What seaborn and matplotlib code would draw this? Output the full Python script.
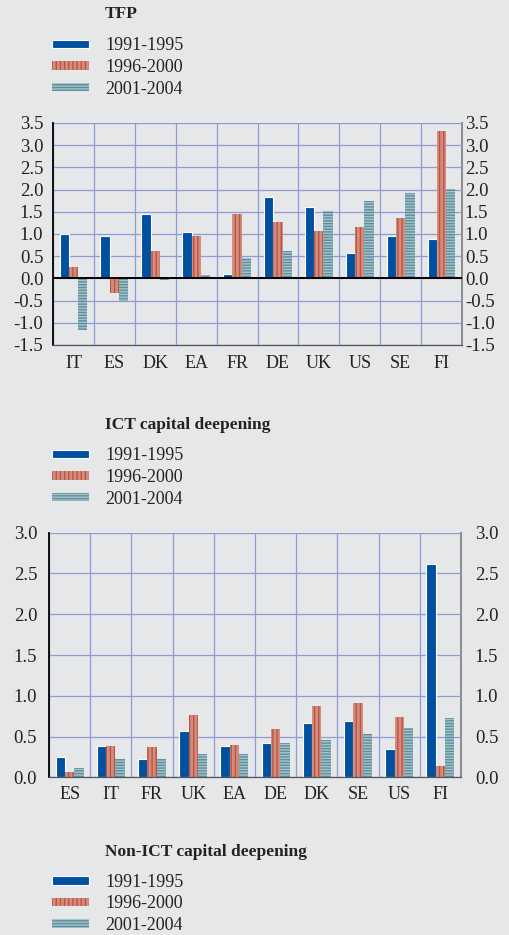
import numpy as np
import pandas as pd
import seaborn as sns
import matplotlib.pyplot as plt
import matplotlib.patches as mpatches

# data
periods = ["1991-1995", "1996-2000", "2001-2004"]

tfp_countries = ["IT", "ES", "DK", "EA", "FR", "DE", "UK", "US", "SE", "FI"]
tfp_9195 = [1.00, 0.95, 1.44, 1.04, 0.11, 1.84, 1.60, 0.57, 0.96, 0.88]
tfp_9600 = [0.25, -0.34, 0.62, 0.95, 1.46, 1.28, 1.07, 1.16, 1.35, 3.32]
tfp_0104 = [-1.17, -0.51, -0.04, 0.07, 0.46, 0.62, 1.52, 1.74, 1.92, 2.02]

ict_countries = ["ES", "IT", "FR", "UK", "EA", "DE", "DK", "SE", "US", "FI"]
ict_9195 = [0.25, 0.38, 0.23, 0.57, 0.38, 0.42, 0.67, 0.69, 0.35, 2.61]
ict_9600 = [0.06, 0.39, 0.37, 0.76, 0.40, 0.59, 0.88, 0.91, 0.74, 0.14]
ict_0104 = [0.11, 0.22, 0.23, 0.28, 0.29, 0.42, 0.46, 0.53, 0.61, 0.73]

BG = "#e6e7e9"
GRID = "#8d9cd6"
TXT = "#222222"
# face colour, stripe colour, hatch per period
styles = [
    dict(facecolor="#0050a0", edgecolor="white", hatch=None, lw=0.8),
    dict(facecolor="#d58c7c", edgecolor="#b85545", hatch="||||", lw=0),
    dict(facecolor="#a6c3cb", edgecolor="#5d8f9d", hatch="------", lw=0),
]

sns.set_style("white", {"axes.facecolor": BG, "figure.facecolor": BG})
plt.rcParams["font.family"] = ["Liberation Serif", "DejaVu Serif"]
plt.rcParams["hatch.linewidth"] = 1.0


def long_df(countries, a, b, c):
    rows = []
    for p, vals in zip(periods, [a, b, c]):
        for k, v in zip(countries, vals):
            rows.append((k, p, v))
    return pd.DataFrame(rows, columns=["country", "period", "value"])


def bar_panel(ax, countries, a, b, c, ylim, yticks, lpad, rpad, xpad):
    df = long_df(countries, a, b, c)
    sns.barplot(data=df, x="country", y="value", hue="period", order=countries,
                hue_order=periods, width=0.68, legend=False, ax=ax)
    # stripes instead of plain fills
    for cont, st in zip(ax.containers, styles):
        for bar in cont:
            bar.set_facecolor(st["facecolor"])
            bar.set_edgecolor(st["edgecolor"])
            bar.set_linewidth(st["lw"])
            if st["hatch"]:
                bar.set_hatch(st["hatch"])

    n = len(countries)
    labels = [f"{t:.1f}" for t in yticks]
    ax.set_xlim(-0.5, n - 0.5)
    ax.set_ylim(*ylim)
    ax.set_yticks(yticks)
    ax.set_yticklabels(labels)
    ax.set_xticks(np.arange(-0.5, n, 1.0), minor=True)
    ax.set_xlabel("")
    ax.set_ylabel("")
    ax.set_axisbelow(True)
    ax.grid(which="minor", axis="x", color=GRID, lw=0.9)
    ax.grid(which="major", axis="y", color=GRID, lw=0.9)
    ax.tick_params(axis="x", which="major", length=0, labelsize=13,
                   pad=xpad, labelcolor=TXT)
    ax.tick_params(axis="x", which="minor", length=4, width=0.8,
                   color="#444444", direction="out")
    ax.tick_params(axis="y", length=0, labelsize=13.5, pad=lpad, labelcolor=TXT)

    # right-hand scale with its own padding
    sec = ax.secondary_yaxis("right")
    sec.set_yticks(yticks)
    sec.set_yticklabels(labels)
    sec.tick_params(length=0, labelsize=13.5, pad=rpad, labelcolor=TXT)
    sec.spines["right"].set_color("#8a8a8a")
    sec.spines["right"].set_linewidth(1.4)

    ax.spines["top"].set_visible(False)
    ax.spines["right"].set_visible(False)
    ax.spines["left"].set_color("black")
    ax.spines["left"].set_linewidth(1.3)
    ax.spines["bottom"].set_color("#555555")
    ax.spines["bottom"].set_linewidth(0.9)
    return ax


W, H = 509, 935
fig = plt.figure(figsize=(W / 100, H / 100), dpi=100)


def fx(px):
    return px / W


def fy(px):
    return 1 - px / H


# TFP panel
ax1 = fig.add_axes([fx(53), fy(345), fx(409), 222 / H])
bar_panel(ax1, tfp_countries, tfp_9195, tfp_9600, tfp_0104,
          (-1.5, 3.5), np.arange(-1.5, 3.51, 0.5), 7, 2, 7)
ax1.axhline(0, color="black", lw=1.4, zorder=3)

# ICT panel
ax2 = fig.add_axes([fx(49), fy(777.3), fx(412), 244.6 / H])
bar_panel(ax2, ict_countries, ict_9195, ict_9600, ict_0104,
          (0, 3.0), np.arange(0, 3.01, 0.5), 8.5, 10, 6)

# titles and legends
handles = [mpatches.Patch(facecolor=s["facecolor"], edgecolor=s["edgecolor"],
                          hatch=s["hatch"], linewidth=s["lw"]) for s in styles]
for title, ty, ly in [("TFP", 13.5, 67.5),
                      ("ICT capital deepening", 425, 477.5),
                      ("Non-ICT capital deepening", 852.5, 904)]:
    fig.text(fx(105), fy(ty), title, fontsize=12.5, fontweight="bold",
             va="center", ha="left", color=TXT)
    fig.legend(handles, periods, loc="center left",
               bbox_to_anchor=(fx(52), fy(ly)), frameon=False, fontsize=13,
               handlelength=2.05, handleheight=0.38, handletextpad=0.9,
               labelspacing=0.25, borderpad=0, borderaxespad=0,
               labelcolor=TXT)

fig.savefig("out.png", dpi=100, facecolor=BG)
